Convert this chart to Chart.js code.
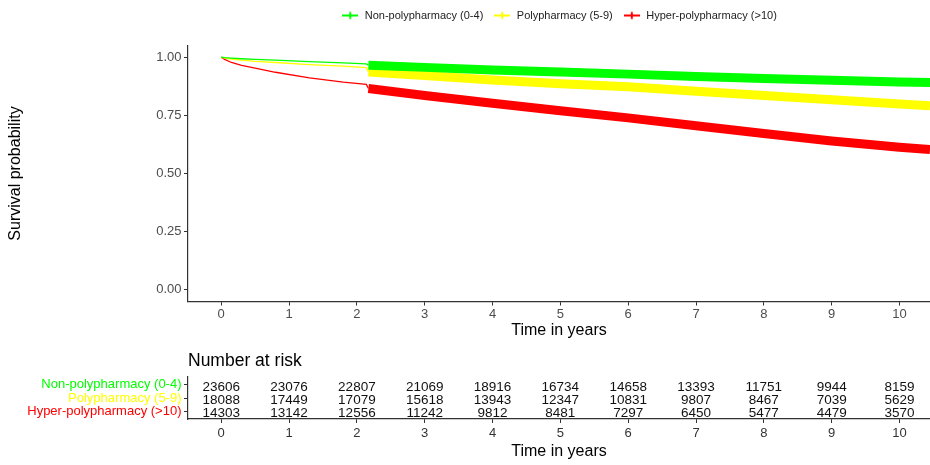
<!DOCTYPE html>
<html>
<head>
<meta charset="utf-8">
<title>Survival by polypharmacy level</title>
<script src="https://cdn.jsdelivr.net/npm/chart.js@4.4.1/dist/chart.umd.min.js"></script>
<style>
  html, body { margin: 0; padding: 0; background: #fff; width: 930px; height: 465px; overflow: hidden; }
  #km { position: absolute; left: 0; top: 0; }
  #risk { position: absolute; left: 0; top: 345px; }
</style>
</head>
<body>
<canvas id="km" width="930" height="345"></canvas>
<canvas id="risk" width="930" height="120"></canvas>
<script>
// Groups and their colours
const groups = ['Non-polypharmacy (0-4)', 'Polypharmacy (5-9)', 'Hyper-polypharmacy (>10)'];
const groupColors = ['#00FF00', '#FFFF00', '#FF0000'];

// Kaplan-Meier survival estimates (time in years)
const survTimes = [0, 0.05, 0.15, 0.3, 0.5, 0.8, 1.3, 1.8, 2.14, 2.17, 3, 4, 5, 6, 7, 8, 9, 10, 10.45];
const survNon   = [1.0, 0.998, 0.996, 0.993, 0.990, 0.987, 0.981, 0.975, 0.971, 0.965, 0.956, 0.945, 0.936, 0.927, 0.917, 0.908, 0.901, 0.893, 0.891];
const survPoly  = [1.0, 0.996, 0.992, 0.987, 0.982, 0.977, 0.968, 0.961, 0.955, 0.936, 0.921, 0.902, 0.886, 0.873, 0.853, 0.835, 0.817, 0.799, 0.791];
const survHyper = [1.0, 0.990, 0.977, 0.965, 0.953, 0.935, 0.911, 0.893, 0.883, 0.865, 0.835, 0.802, 0.770, 0.739, 0.705, 0.672, 0.640, 0.613, 0.603];

// From this time on the censoring marks pile up into a solid band
const censorStart = 2.17;

// Axis ticks
const timeTicks = [0, 1, 2, 3, 4, 5, 6, 7, 8, 9, 10];
const probTicks = [0, 0.25, 0.5, 0.75, 1];

// Number at risk table
const riskTimes = [0, 1, 2, 3, 4, 5, 6, 7, 8, 9, 10];
const riskNon   = [23606, 23076, 22807, 21069, 18916, 16734, 14658, 13393, 11751, 9944, 8159];
const riskPoly  = [18088, 17449, 17079, 15618, 13943, 12347, 10831, 9807, 8467, 7039, 5629];
const riskHyper = [14303, 13142, 12556, 11242, 9812, 8481, 7297, 6450, 5477, 4479, 3570];

const FONT = "'Liberation Sans', Arial, sans-serif";
Chart.defaults.font.family = FONT;
Chart.defaults.color = '#333';

const survSeries = [survNon, survPoly, survHyper];
const riskRows = [riskNon, riskPoly, riskHyper];

// Legend key: line with a "+" censoring mark
function legendMark(color) {
  const c = document.createElement('canvas');
  c.width = 16; c.height = 10;
  const g = c.getContext('2d');
  g.strokeStyle = color;
  g.lineWidth = 2;
  g.beginPath();
  g.moveTo(0, 5); g.lineTo(16, 5);
  g.moveTo(8, 1.5); g.lineTo(8, 8.5);
  g.stroke();
  return c;
}

// Extra space between the legend and the plot panel
const legendGap = {
  id: 'legendGap',
  beforeInit(chart) {
    const fit = chart.legend.fit;
    chart.legend.fit = function () {
      fit.call(this);
      this.height += 14.5;
    };
  }
};

const axisLine = { color: '#333', width: 1.2 };
const tickGrid = { drawOnChartArea: false, drawTicks: true, tickLength: 4, color: '#333' };

function timeAxis(height, tickPad, titlePad, tickColor) {
  return {
    type: 'linear',
    min: -0.49,
    max: 10.45,
    afterBuildTicks: s => { s.ticks = timeTicks.map(v => ({ value: v })); },
    afterFit: s => { s.height = height; },
    grid: tickGrid,
    border: axisLine,
    ticks: { color: tickColor, font: { size: 13 }, padding: tickPad, maxRotation: 0 },
    title: { display: true, text: 'Time in years', color: '#000', font: { size: 16 }, padding: { top: 0, bottom: titlePad } }
  };
}

new Chart(document.getElementById('km'), {
  type: 'line',
  data: {
    datasets: groups.map((name, i) => ({
      label: name,
      data: survTimes.map((t, k) => ({ x: t, y: survSeries[i][k] })),
      borderColor: groupColors[i],
      backgroundColor: groupColors[i],
      borderWidth: 1.3,
      borderCapStyle: 'butt',
      pointRadius: 0,
      pointStyle: legendMark(groupColors[i]),
      tension: 0,
      fill: false,
      segment: { borderWidth: ctx => (ctx.p0.parsed.x >= censorStart ? 9 : 1.3) }
    }))
  },
  options: {
    responsive: false,
    animation: false,
    devicePixelRatio: 1,
    layout: { padding: 0 },
    plugins: {
      legend: {
        position: 'top',
        fullSize: false,
        labels: { usePointStyle: true, pointStyleWidth: 18, padding: 10, color: '#222', font: { size: 11 } }
      },
      tooltip: { enabled: false }
    },
    scales: {
      x: timeAxis(43.5, 1, 4.4, '#4d4d4d'),
      y: {
        min: -0.05,
        max: 1.05,
        afterBuildTicks: s => { s.ticks = probTicks.map(v => ({ value: v })); },
        afterFit: s => { s.width = 188; },
        grid: tickGrid,
        border: axisLine,
        ticks: { color: '#4d4d4d', font: { size: 13 }, padding: 2.5, callback: v => Number(v).toFixed(2) },
        title: { display: true, text: 'Survival probability', color: '#000', font: { size: 16 }, padding: { top: 6.4, bottom: 0 } }
      }
    }
  },
  plugins: [legendGap]
});

// Writes the at-risk counts at each time tick, one row per group
const riskNumbers = {
  id: 'riskNumbers',
  afterDraw(chart) {
    const { ctx, scales: { x, y } } = chart;
    ctx.save();
    ctx.font = '13.5px ' + FONT;
    ctx.fillStyle = '#111';
    ctx.textAlign = 'center';
    ctx.textBaseline = 'middle';
    riskRows.forEach((row, gi) => {
      const py = y.getPixelForValue(groups.length - 1 - gi) + 2;
      riskTimes.forEach((t, k) => ctx.fillText(String(row[k]), x.getPixelForValue(t), py));
    });
    ctx.restore();
  }
};

new Chart(document.getElementById('risk'), {
  type: 'scatter',
  data: { datasets: [] },
  options: {
    responsive: false,
    animation: false,
    devicePixelRatio: 1,
    layout: { padding: 0 },
    plugins: {
      legend: { display: false },
      tooltip: { enabled: false },
      title: {
        display: true,
        text: 'Number at risk',
        align: 'start',
        fullSize: false,
        color: '#000',
        font: { size: 17.5, weight: 'normal' },
        padding: { top: 5.5, bottom: 5.5 }
      }
    },
    scales: {
      x: timeAxis(46, 2.5, 3.7, '#333'),
      y: {
        type: 'linear',
        min: -0.6,
        max: 2.6,
        afterBuildTicks: s => { s.ticks = [0, 1, 2].map(v => ({ value: v })); },
        afterFit: s => { s.width = 188; },
        grid: tickGrid,
        border: axisLine,
        ticks: {
          font: { size: 13 },
          padding: 2.5,
          color: c => groupColors[groups.length - 1 - c.tick.value],
          callback: v => groups[groups.length - 1 - v]
        }
      }
    }
  },
  plugins: [riskNumbers]
});
</script>
</body>
</html>
